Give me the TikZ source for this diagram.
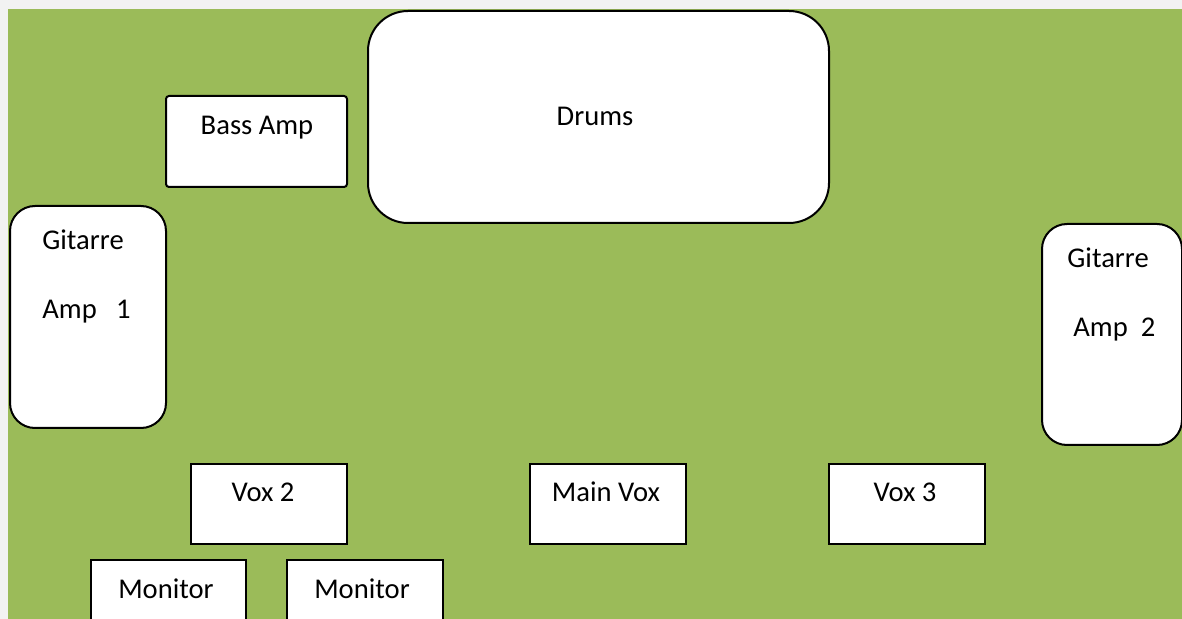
\documentclass[tikz,border=0pt]{standalone}
\usepackage{fontspec}
\setmainfont{Carlito}
\definecolor{stage}{HTML}{9BBB59}
\definecolor{page}{HTML}{F2F2F2}
\begin{document}
\begin{tikzpicture}[x=0.5pt,y=-0.5pt,
  box/.style={draw=black,line width=1pt,fill=white,anchor=north west,inner sep=0pt},
  smallbox/.style={box,minimum width=78pt,minimum height=40pt},
  lbl/.style={font=\fontsize{14.3pt}{17pt}\selectfont,inner sep=0pt}]
\useasboundingbox (0,0) rectangle (1182,619);
\clip (0,0) rectangle (1182,619);
\fill[page] (0,0) rectangle (1182,619);
\fill[stage] (8,9) rectangle (1182,619);
% boxes
\node[box,rounded corners=1.5pt,minimum width=90.5pt,minimum height=45.5pt] (bass) at (165,95) {};
\node[box,rounded corners=20pt,minimum width=230.5pt,minimum height=106pt] (drums) at (367,10) {};
\node[box,rounded corners=12.5pt,minimum width=78pt,minimum height=111pt] (git1) at (9,205) {};
\node[box,rounded corners=12.5pt,minimum width=70pt,minimum height=110.5pt] (git2) at (1041,223) {};
\node[smallbox] (vox2) at (190,463) {};
\node[smallbox] (mainvox) at (529,463) {};
\node[smallbox] (vox3) at (828,463) {};
\node[smallbox,minimum width=77.5pt] (mon1) at (90,559) {};
\node[smallbox] (mon2) at (286,559) {};
% labels
\node[lbl,anchor=base] (tbass) at (257,135) {Bass Amp};
\node[lbl,anchor=base] (tdrums) at (595,126) {Drums};
\node[lbl,anchor=base west] (tgit1a) at (42,250) {Gitarre};
\node[lbl,anchor=base west] (tgit1b) at (42,319) {Amp\ \ \ 1};
\node[lbl,anchor=base west] (tgit2a) at (1067,268) {Gitarre};
\node[lbl,anchor=base west] (tgit2b) at (1073,337) {Amp\ \ 2};
\node[lbl,anchor=base] (tvox2) at (263,502) {Vox 2};
\node[lbl,anchor=base] (tmainvox) at (606,502) {Main Vox};
\node[lbl,anchor=base] (tvox3) at (905,502) {Vox 3};
\node[lbl,anchor=base] (tmon1) at (166,598) {Monitor};
\node[lbl,anchor=base] (tmon2) at (362,598) {Monitor};
\end{tikzpicture}
\end{document}
